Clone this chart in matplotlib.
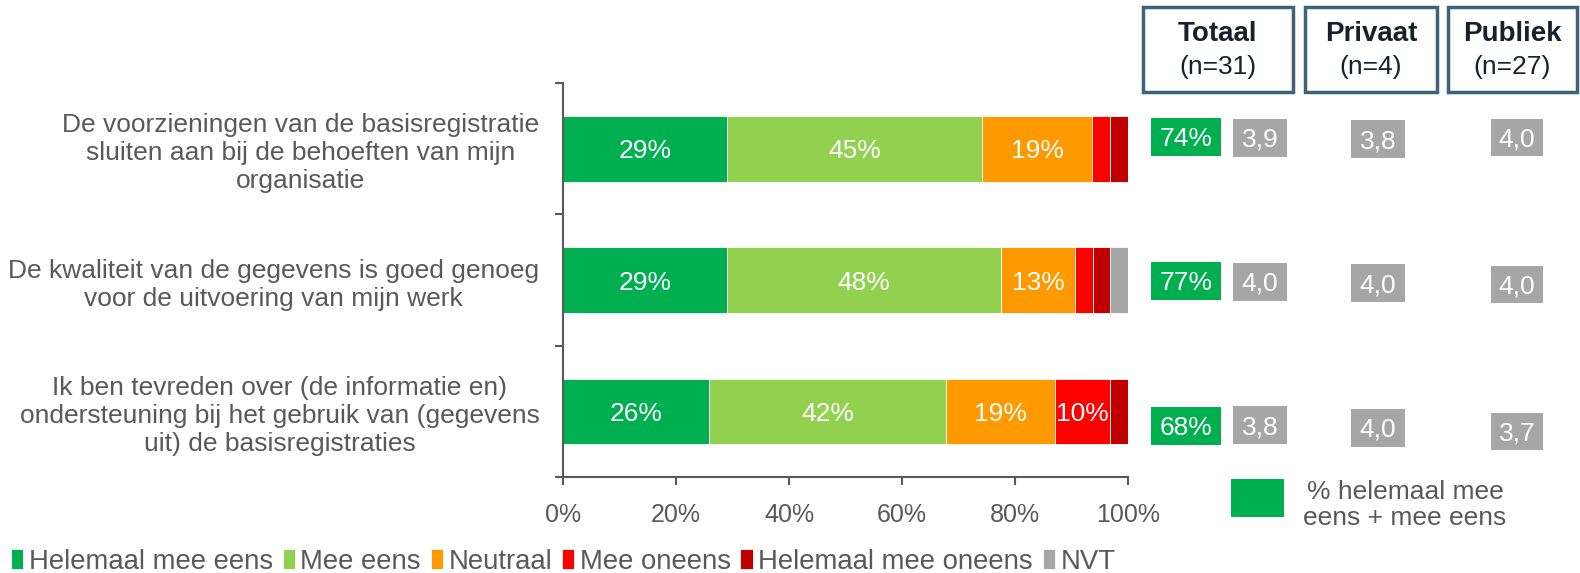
import matplotlib.pyplot as plt
from matplotlib.patches import Rectangle

plt.rcParams['font.family'] = ['Liberation Sans', 'DejaVu Sans']

vragen = ["De voorzieningen van de basisregistratie\nsluiten aan bij de behoeften van mijn\norganisatie",
          "De kwaliteit van de gegevens is goed genoeg\nvoor de uitvoering van mijn werk",
          "Ik ben tevreden over (de informatie en)\nondersteuning bij het gebruik van (gegevens\nuit) de basisregistraties"]

helemaal_eens = [29.0, 29.0, 25.8]
mee_eens = [45.2, 48.5, 42.0]
neutraal = [19.4, 13.1, 19.2]
mee_oneens = [3.2, 3.2, 9.8]
helemaal_oneens = [3.2, 3.1, 3.2]
nvt = [0.0, 3.1, 0.0]

pct_eens = [74, 77, 68]
score_totaal = ["3,9", "4,0", "3,8"]
score_privaat = ["3,8", "4,0", "4,0"]
score_publiek = ["4,0", "4,0", "3,7"]

groepen = ["Totaal", "Privaat", "Publiek"]
groep_n = ["(n=31)", "(n=4)", "(n=27)"]

reeksen = [helemaal_eens, mee_eens, neutraal, mee_oneens, helemaal_oneens, nvt]
namen = ["Helemaal mee eens", "Mee eens", "Neutraal", "Mee oneens", "Helemaal mee oneens", "NVT"]
kleuren = ["#00B050", "#92D050", "#FF9900", "#FF0000", "#C00000", "#A6A6A6"]

W, H = 1580, 573
grijs = "#595959"

fig = plt.figure(figsize=(W / 100, H / 100), dpi=100)
ax = fig.add_axes([563 / W, 1 - 477 / H, (1128 - 563) / W, (477 - 83) / H])

y = list(range(len(vragen)))
links = [0.0] * len(vragen)
for waarden, naam, kleur in zip(reeksen, namen, kleuren):
    ax.barh(y, waarden, left=links, height=0.5, color=kleur, edgecolor='white',
            linewidth=0.6, label=naam)
    for i, v in enumerate(waarden):
        if v >= 9:
            ax.text(links[i] + v / 2, i + 0.02, f"{round(v)}%", ha='center', va='center',
                    color='white', fontsize=19)
    links = [l + v for l, v in zip(links, waarden)]

ax.set_xlim(0, 100)
ax.set_ylim(2.5, -0.5)
ax.set_xticks(range(0, 101, 20))
ax.set_xticklabels([f"{t}%" for t in range(0, 101, 20)])
ax.set_yticks(y)
ax.set_yticklabels(vragen)
for lbl in ax.get_yticklabels():
    lbl.set_multialignment('center')
    lbl.set_linespacing(1.22)
ax.set_yticks([-0.5, 0.5, 1.5, 2.5], minor=True)
ax.tick_params(axis='y', which='major', length=0, pad=17, labelsize=19,
               labelcolor=grijs)
ax.tick_params(axis='y', which='minor', length=6, width=1.5, color=grijs)
ax.tick_params(axis='x', length=6, width=1.5, color=grijs, pad=13, labelsize=18,
               labelcolor=grijs)
ax.spines['top'].set_visible(False)
ax.spines['right'].set_visible(False)
for s in ['left', 'bottom']:
    ax.spines[s].set_color(grijs)
    ax.spines[s].set_linewidth(1.5)


def vak(x0, y0, x1, y1, kleur, tekst):
    fig.patches.append(Rectangle((x0 / W, 1 - y1 / H), (x1 - x0) / W, (y1 - y0) / H,
                                 transform=fig.transFigure, facecolor=kleur,
                                 edgecolor='none'))
    fig.text((x0 + x1) / 2 / W, 1 - ((y0 + y1) / 2 + 2) / H, tekst, ha='center',
             va='center', color='white', fontsize=19)


# kopjes
kop_x = [(1143, 1293), (1305, 1437), (1448, 1577)]
for (x0, x1), g, n in zip(kop_x, groepen, groep_n):
    fig.patches.append(Rectangle((x0 / W, 1 - 92 / H), (x1 - x0) / W, 85 / H,
                                 transform=fig.transFigure, facecolor='white',
                                 edgecolor='#3E6279', linewidth=2.5))
    fig.text((x0 + x1) / 2 / W, 1 - 34 / H, g, ha='center', va='center',
             fontsize=20, fontweight='bold', color='#16212B')
    fig.text((x0 + x1) / 2 / W, 1 - 67 / H, n, ha='center', va='center',
             fontsize=19, color='#16212B')

rij_y_groen = [118, 262, 407]
rij_y_tot = [119, 263, 406]
rij_y_priv = [120, 264, 409]
rij_y_publ = [119, 266, 413]
for i in range(len(vragen)):
    vak(1151, rij_y_groen[i], 1221, rij_y_groen[i] + 38, '#00B050', f"{pct_eens[i]}%")
    vak(1233, rij_y_tot[i], 1287, rij_y_tot[i] + 38, '#A6A6A6', score_totaal[i])
    vak(1351, rij_y_priv[i], 1405, rij_y_priv[i] + 38, '#A6A6A6', score_privaat[i])
    vak(1491, rij_y_publ[i], 1543, rij_y_publ[i] + 37, '#A6A6A6', score_publiek[i])

# uitleg groen vak
fig.patches.append(Rectangle((1231 / W, 1 - 517 / H), 53 / W, 38 / H,
                             transform=fig.transFigure, facecolor='#00B050',
                             edgecolor='none'))
fig.text(1405 / W, 1 - 505 / H, "% helemaal mee\neens + mee eens", ha='center',
         va='center', fontsize=19, color=grijs, linespacing=1.15)

leg = fig.legend(loc='lower left', bbox_to_anchor=(0.0, -0.022), ncol=6,
                 frameon=False, handlelength=0.45, handleheight=0.75,
                 handletextpad=0.2, columnspacing=0.35, borderaxespad=0,
                 prop={'size': 19.8})
for t in leg.get_texts():
    t.set_color(grijs)

fig.savefig('out.png', dpi=100)
